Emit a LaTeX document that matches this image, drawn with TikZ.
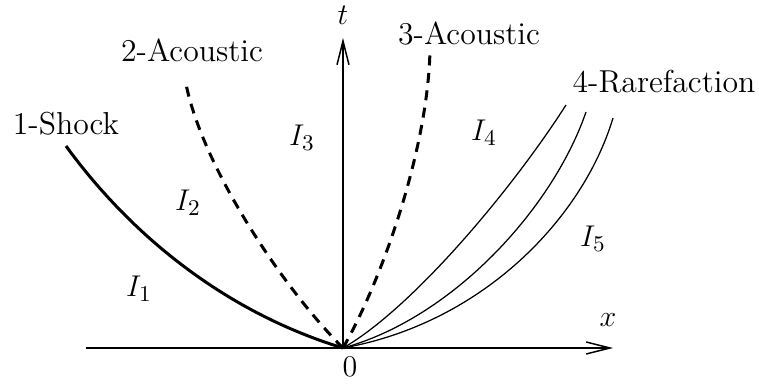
\documentclass[tikz,border=0pt]{standalone}
\usetikzlibrary{arrows.meta, positioning}

\begin{document}
\begin{tikzpicture}[
    x=0.4pt, y=0.4pt,
    axis/.style={-{Straight Barb[length=9.5pt, width=4.8pt, line width=0.6pt]}, line width=0.6pt},
    shock/.style={line width=1.2pt},
    acoustic/.style={line width=1.2pt, dash pattern=on 4pt off 3pt},
    fan/.style={line width=0.5pt},
    wave_label/.style={font=\fontsize{12.7pt}{15pt}\selectfont, inner sep=1pt},
    region/.style={font=\fontsize{12.7pt}{15pt}\selectfont, inner sep=1pt}
]

% Bounding box
\useasboundingbox (-343,-37) rectangle (416,348);

% Origin and axis ends
\coordinate (O) at (0,0);
\coordinate (xstart) at (-257,0);
\coordinate (xend) at (270,0);
\coordinate (tend) at (0,310);

% Wave end points
\coordinate (shockend) at (-277,202);
\coordinate (acoustic2end) at (-157,264);
\coordinate (acoustic3end) at (87,298);
\coordinate (fanA) at (223,243);
\coordinate (fanB) at (243,236);
\coordinate (fanC) at (270,230);

% Axes
\draw[axis] (xstart) -- (xend);
\draw[axis] (O) -- (tend);
\node[region] (tlabel) at (0,333) {$t$};
\node[region] (xlabel) at (265,28) {$x$};
\node[region] (zero) at (7,-19) {$0$};

% 1-Shock
\draw[shock] (O) .. controls (-115,35) and (-210,110) .. (shockend);
\node[wave_label] (shock) at (-277,224) {1-Shock};

% 2-Acoustic
\draw[acoustic] (O) .. controls (-60,60) and (-140,180) .. (acoustic2end);
\node[wave_label] (acoustic2) at (-151,298) {2-Acoustic};

% 3-Acoustic
\draw[acoustic] (O) .. controls (40,70) and (85,200) .. (acoustic3end);
\node[wave_label] (acoustic3) at (126,314) {3-Acoustic};

% 4-Rarefaction fan
\draw[fan] (O) .. controls (70,40) and (170,160) .. (fanA);
\draw[fan] (O) .. controls (110,30) and (210,140) .. (fanB);
\draw[fan] (O) .. controls (140,25) and (240,130) .. (fanC);
\node[wave_label] (rarefaction) at (321,266) {4-Rarefaction};

% Regions
\node[region] (I1) at (-204,59) {$I_1$};
\node[region] (I2) at (-155,145) {$I_2$};
\node[region] (I3) at (-41,210) {$I_3$};
\node[region] (I4) at (141,215) {$I_4$};
\node[region] (I5) at (250,109) {$I_5$};

\end{tikzpicture}
\end{document}
